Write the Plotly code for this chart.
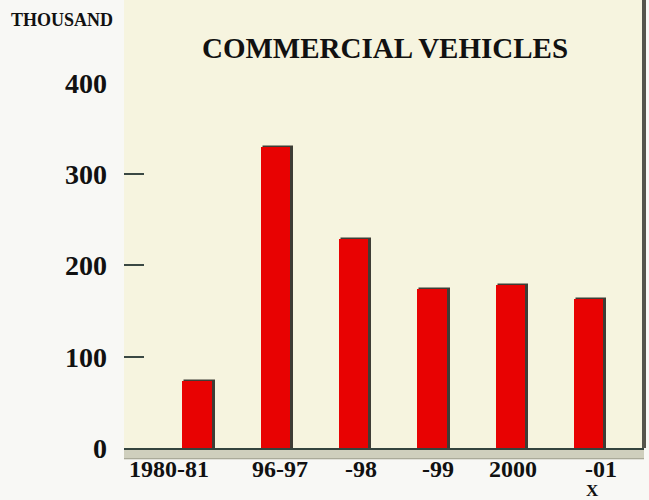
import plotly.graph_objects as go

categories = ["1980-81", "96-97", "-98", "-99", "2000", "-01"]
values = [73, 330, 229, 174, 178, 163]
y_tick_vals = [0, 100, 200, 300, 400]
y_tick_text = ["0", "100", "200", "300", "400"]
tick_mark_vals = [100, 200, 300]

label_shift = [-28, 5, 7, 6, 3, 12]

FONT = "Liberation Serif"
bar_w = 0.377
px_unit = 1 / 78.2

fig = go.Figure()
# shadow
fig.add_trace(go.Bar(
    x=categories, y=values, width=bar_w, offset=-bar_w / 2 + 3 * px_unit,
    marker=dict(color="#3e3d36", line=dict(color="#3e3d36", width=1.5)),
    hoverinfo="skip", showlegend=False,
))
fig.add_trace(go.Bar(
    x=categories, y=values, width=bar_w, offset=-bar_w / 2,
    marker=dict(color="#e80202", line=dict(width=0)),
    showlegend=False,
))
# invisible trace to activate yaxis2 (label axis)
fig.add_trace(go.Scatter(x=[categories[0]], y=[0], yaxis="y2", mode="markers",
                         marker=dict(opacity=0), hoverinfo="skip", showlegend=False))

annotations = []
for i, (c, s) in enumerate(zip(categories, label_shift)):
    annotations.append(dict(
        x=i, xref="x", y=0, yref="paper", yanchor="top", yshift=-9, height=20,
        xshift=s, text="<b>" + c + "</b>", showarrow=False,
        font=dict(family=FONT, size=24, color="#111111"),
    ))
annotations.append(dict(
    x=len(categories) - 1, xref="x", y=0, yref="paper", yanchor="top", yshift=-33,
    height=15, xshift=4, text="<b>X</b>", showarrow=False,
    font=dict(family=FONT, size=17, color="#111111"),
))
annotations.append(dict(
    x=(62 - 124) / 520, xref="paper", y=(448 - 20) / 448, yref="paper",
    xanchor="center", yanchor="middle",
    text="<b>THOUSAND</b>", showarrow=False,
    font=dict(family=FONT, size=18, color="#111111"),
))

shapes = [
    # base band under axis
    dict(type="rect", xref="paper", yref="paper", x0=0, x1=1.0,
         y0=-0.024, y1=-0.004, fillcolor="#cfcfbd", line=dict(width=0), layer="below"),
    dict(type="line", xref="paper", yref="paper", x0=0, x1=1.0,
         y0=-0.024, y1=-0.024, line=dict(color="#9a9a88", width=1)),
    # right dark edge
    dict(type="line", xref="paper", yref="paper", x0=1.0, x1=1.0,
         y0=0.0, y1=1.0, line=dict(color="#55554c", width=4)),
]

fig.update_layout(
    width=649, height=500,
    margin=dict(l=124, r=5, t=0, b=52),
    paper_bgcolor="#f8f8f5",
    plot_bgcolor="#f6f4df",
    barmode="overlay",
    bargap=0,
    title=dict(text="<b>COMMERCIAL VEHICLES</b>", x=385 / 649, xanchor="center",
               y=1 - 48 / 500, yanchor="middle",
               font=dict(family=FONT, size=29, color="#111111")),
    xaxis=dict(type="category", range=[-0.931, 5.706], showticklabels=False, ticks="",
               showgrid=False, zeroline=False, showline=True,
               linecolor="#34443e", linewidth=2),
    yaxis=dict(range=[0, 490.7], tickvals=tick_mark_vals, ticks="inside",
               ticklen=20, tickwidth=2, tickcolor="#3a4844",
               showticklabels=False, showgrid=False, zeroline=False, showline=False),
    yaxis2=dict(range=[0, 490.7], overlaying="y", side="left", anchor="x",
                tickvals=y_tick_vals, ticktext=["<b>" + t + "</b>" for t in y_tick_text],
                ticks="", ticklabelstandoff=16, showgrid=False, zeroline=False,
                showline=False, tickfont=dict(family=FONT, size=28, color="#111111")),
    annotations=annotations,
    shapes=shapes,
)

fig.write_html("out.html", config={"displayModeBar": False},
               post_script="document.body.style.margin='0';document.body.style.overflow='hidden';")
